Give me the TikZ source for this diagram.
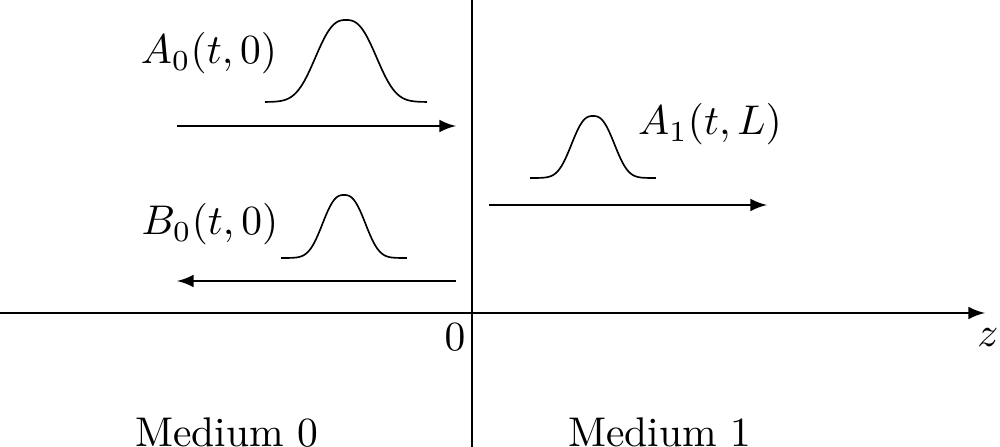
\documentclass[tikz,border=0pt]{standalone}
\usetikzlibrary{arrows}

\begin{document}
\begin{tikzpicture}[x=0.0847mm, y=-0.0847mm, >=latex]
\useasboundingbox (0,0) rectangle (1000,447);

% axes
\coordinate (top) at (472,0);
\coordinate (bottom) at (472,447);
\coordinate (zstart) at (0,313);
\coordinate (zend) at (985,313);
\draw (top) -- (bottom);
\draw[->] (zstart) -- (zend);
\node (zlabel) at (988,338) {$z$};
\node (origin) at (455,337) {$0$};

% incident pulse
\node (afwd) [anchor=base] at (209,64) {$A_0(t,0)$};
\draw[domain=265:427, samples=100, smooth] plot (\x, {102-82*exp(-(abs(\x-346)/37)^2.6)});
\coordinate (afwdstart) at (177,126);
\coordinate (afwdend) at (456,126);
\draw[->] (afwdstart) -- (afwdend);

% reflected pulse
\node (bback) [anchor=base] at (210,235) {$B_0(t,0)$};
\draw[domain=281:407, samples=100, smooth] plot (\x, {258-63*exp(-(abs(\x-344)/26)^2.6)});
\coordinate (bbackstart) at (456,281);
\coordinate (bbackend) at (177,281);
\draw[->] (bbackstart) -- (bbackend);

% transmitted pulse
\node (atrans) [anchor=base] at (710,135) {$A_1(t,L)$};
\draw[domain=530:656, samples=100, smooth] plot (\x, {178-62*exp(-(abs(\x-593)/26)^2.6)});
\coordinate (atransstart) at (489,205);
\coordinate (atransend) at (767,205);
\draw[->] (atransstart) -- (atransend);

% media
\node (medzero) [anchor=base] at (227,447) {Medium 0};
\node (medone) [anchor=base] at (660,447) {Medium 1};

\end{tikzpicture}
\end{document}
